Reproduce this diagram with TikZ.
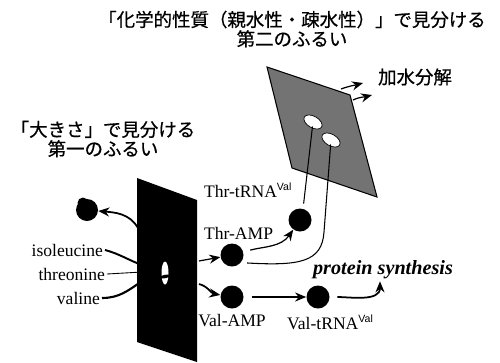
\documentclass[tikz,border=0pt]{standalone}
\usepackage{fontspec}
\setmainfont{Liberation Serif}
\newfontfamily\jpfont[FakeBold=0.6]{Noto Sans CJK JP}
\newfontfamily\supfont{Liberation Sans}
\usepackage{tikz}
\usetikzlibrary{arrows.meta, positioning, shapes.geometric}

\newcommand{\valsup}{\raisebox{0.9ex}{\supfont\fontsize{6}{6}\selectfont Val}}

\begin{document}
\begin{tikzpicture}[
    x=0.2mm, y=0.2mm,
    ball/.style={
        circle,
        fill=black,
        inner sep=0pt,
        minimum size=4.6mm
    },
    hole/.style={
        ellipse,
        fill=white,
        inner sep=0pt
    },
    lbl/.style={
        font=\fontsize{10}{12}\selectfont,
        inner sep=1pt
    },
    jp/.style={
        font=\jpfont\fontsize{10.5}{11}\selectfont,
        align=center,
        inner sep=0pt
    },
    arrow/.style={
        -{Stealth[length=2.2mm, width=1.8mm]},
        line width=1pt
    },
    thinline/.style={
        line width=0.6pt
    }
]
\useasboundingbox (0,0) rectangle (500,362);

% === Headings ===
\node[jp] (chemsieve) at (292,333) {「化学的性質（親水性・疎水性）」で見分ける\\第二のふるい};
\node[jp] (sizesieve) at (103,223) {「大きさ」で見分ける\\第一のふるい};
\node[jp] (hydrolysis) at (415,285) {加水分解};

% === Amino acids entering the first sieve ===
\node[lbl, anchor=east] (ile) at (105,112) {isoleucine};
\node[lbl, anchor=east] (thr) at (107,88) {threonine};
\node[lbl, anchor=east] (val) at (102,64) {valine};

\coordinate (ilein) at (142,97);
\coordinate (thrin) at (142,90);
\coordinate (valin) at (142,81);
\coordinate (rejout) at (138,134);

\draw[line width=1.1pt] (ile.east) to[out=-15,in=160] (ilein);
\draw[line width=0.5pt] (thr.east) -- (thrin);
\draw[line width=1.2pt] (val.east) to[out=0,in=215] (valin);

% rejected (too large) amino acid
\node[ball, minimum size=4.4mm] (tear) at (87,152) {};
\fill (83,159) circle[radius=1.1mm];
\draw[arrow] (rejout) to[out=120,in=-5] (tear);

% === First sieve (size) ===
\fill (137,184) -- (197,162) -- (197,0) -- (137,20) -- cycle;
\node[hole, minimum width=1.4mm, minimum height=4.6mm] (pore) at (165,89) {};
\node[ellipse, fill=black, inner sep=0pt, minimum width=2mm, minimum height=0.7mm, rotate=10] (pass) at (165,85.5) {};

% === Adenylates ===
\node[ball] (thramp) at (232,107) {};
\node[ball] (valamp) at (232,65) {};
\node[lbl, anchor=west] (thrampl) at (202,129) {Thr-AMP};
\node[lbl, below=2pt of valamp] (valampl) {Val-AMP};

\coordinate (throut) at (199,101);
\coordinate (valout) at (199,78);
\draw[arrow, line width=0.7pt] (throut) -- (thramp);
\draw[arrow] (valout) to[out=-15,in=170] (valamp);

% === Second sieve (chemical properties) ===
\fill[black!55, draw=black, line width=0.6pt] (267,295) -- (350,267) -- (377,165) -- (292,194) -- cycle;
\node[hole, draw=black, line width=0.4pt, minimum width=4mm, minimum height=2.3mm, rotate=-30] (hole1) at (313,240) {};
\node[hole, draw=black, line width=0.4pt, minimum width=4mm, minimum height=2.3mm, rotate=-30] (hole2) at (331,222) {};

\coordinate (hyd1) at (341,273);
\coordinate (hyd2) at (353,262);
\draw[arrow, line width=0.7pt] (hyd1) to[out=20,in=195] (363,279);
\draw[arrow, line width=0.7pt] (hyd2) to[out=25,in=195] (372,267);

% === Aminoacyl-tRNAs ===
\node[ball] (thrtrna) at (300,142) {};
\node[ball] (valtrna) at (318,65) {};
\node[lbl, anchor=west] (thrtrnal) at (202,172) {Thr-tRNA\valsup};
\node[lbl, below=2pt of valtrna, xshift=2.4mm] (valtrnal) {Val-tRNA\valsup};

\draw[arrow, line width=0.7pt, shorten <=1.4mm] (thramp) to[out=15,in=235] (thrtrna);
\draw[thinline, shorten <=1mm, shorten >=0.9mm] (thrtrna.75) -- (hole1.center);
\draw[thinline, shorten <=1.2mm, shorten >=0.9mm] (thramp.-40) .. controls (300,96) and (322,100) .. (324,130) -- (hole2.center);

\draw[arrow, shorten <=1.6mm] (valamp) -- (valtrna);

% === Protein synthesis ===
\node[font=\bfseries\itshape\fontsize{11.5}{12}\selectfont, inner sep=1pt] (protein) at (383,92) {protein synthesis};
\draw[arrow, shorten <=1.5mm] (valtrna) to[out=0,in=-90] ([xshift=-0.6mm]protein.south);

\end{tikzpicture}
\end{document}
